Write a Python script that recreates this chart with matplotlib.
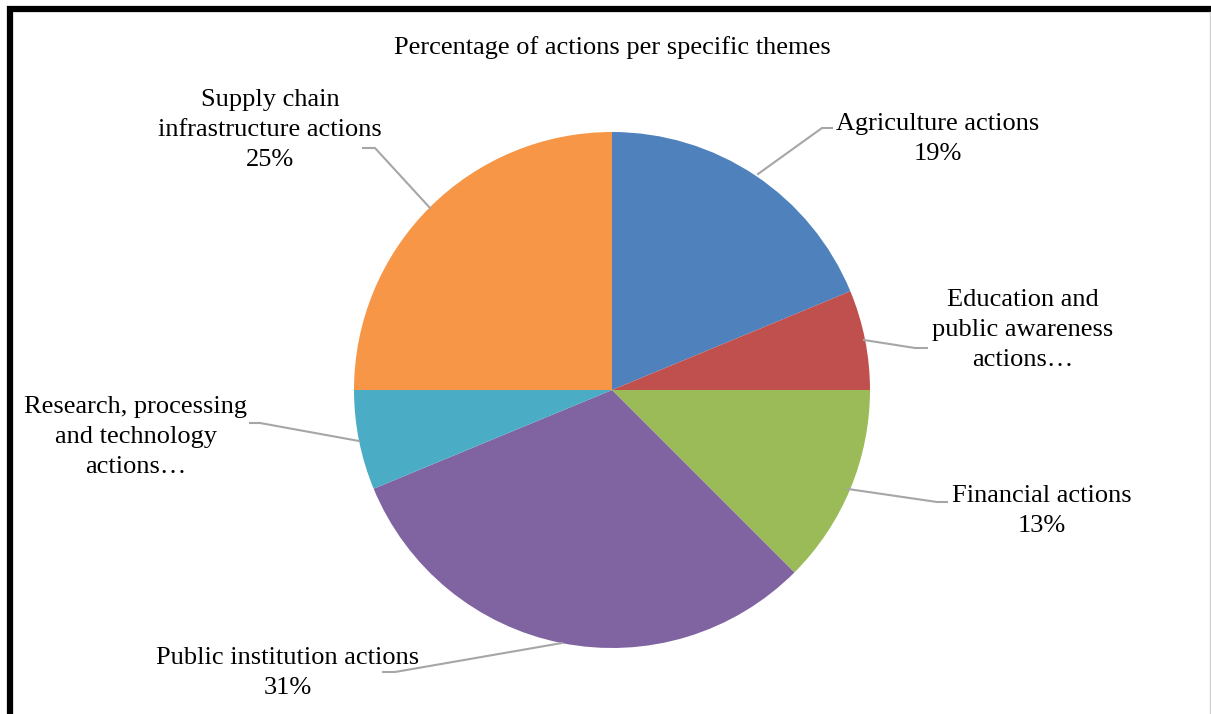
import matplotlib.pyplot as plt
from matplotlib.lines import Line2D

# data (percent of actions)
themes = ["Agriculture actions", "Education and\npublic awareness\nactions\u2026",
          "Financial actions", "Public institution actions",
          "Research, processing\nand technology\nactions\u2026",
          "Supply chain\ninfrastructure actions"]
shares = [18.75, 6.25, 12.5, 31.25, 6.25, 25.0]
shown_pct = ["19%", "", "13%", "31%", "", "25%"]
colors = ["#4F81BD", "#C0504D", "#9BBB59", "#8064A2", "#4BACC6", "#F79646"]

# label placement in pixel coordinates of the 1211x714 image
label_xy = [(938, 139), (1023, 330), (1042, 511), (288, 673), (136, 437), (270, 130)]
leader_px = [[(758, 174), (822, 128), (832, 128)],
             [(864, 340), (915, 348), (927, 348)],
             [(848, 489), (937, 502), (947, 502)],
             [(562, 643), (395, 672), (383, 672)],
             [(359, 441), (260, 423), (250, 423)],
             [(430, 208), (375, 148), (363, 148)]]

W, H = 1211, 714
cx, cy, R = 612, 390, 258

plt.rcParams['font.family'] = ['Liberation Serif', 'DejaVu Serif']
fig = plt.figure(figsize=(W / 100, H / 100), dpi=100)

ax = fig.add_axes([(cx - R) / W, (H - cy - R) / H, 2 * R / W, 2 * R / H])
ax.pie(shares, colors=colors, startangle=90, counterclock=False,
       wedgeprops=dict(linewidth=0))
ax.set_xlim(-1, 1)
ax.set_ylim(-1, 1)
ax.axis('off')


def to_data(p):
    return (p[0] - cx) / R, (cy - p[1]) / R


for name, pct, pos, pts in zip(themes, shown_pct, label_xy, leader_px):
    txt = name if pct == "" else name + "\n" + pct
    x, y = to_data(pos)
    ax.text(x, y, txt, ha='center', va='center', fontsize=19,
            linespacing=1.45, clip_on=False)
    dpts = [to_data(p) for p in pts]
    ax.plot([p[0] for p in dpts], [p[1] for p in dpts], color='#A6A6A6',
            lw=1.5, clip_on=False)

fig.text(612 / W, 1 - 48 / H, "Percentage of actions per specific themes",
         ha='center', va='center', fontsize=19)

# frame around the chart: thick left and top edges, faint right edge
fig.lines.append(Line2D([10.5 / W, 10.5 / W, 1210 / W], [0, 1 - 9 / H, 1 - 9 / H],
                        transform=fig.transFigure, color='black', lw=4.5,
                        solid_joinstyle='miter'))
fig.lines.append(Line2D([1209.5 / W, 1209.5 / W], [0, 1 - 12 / H],
                        transform=fig.transFigure, color='#D0D0D0', lw=1))

fig.savefig("out.png", dpi=100)
